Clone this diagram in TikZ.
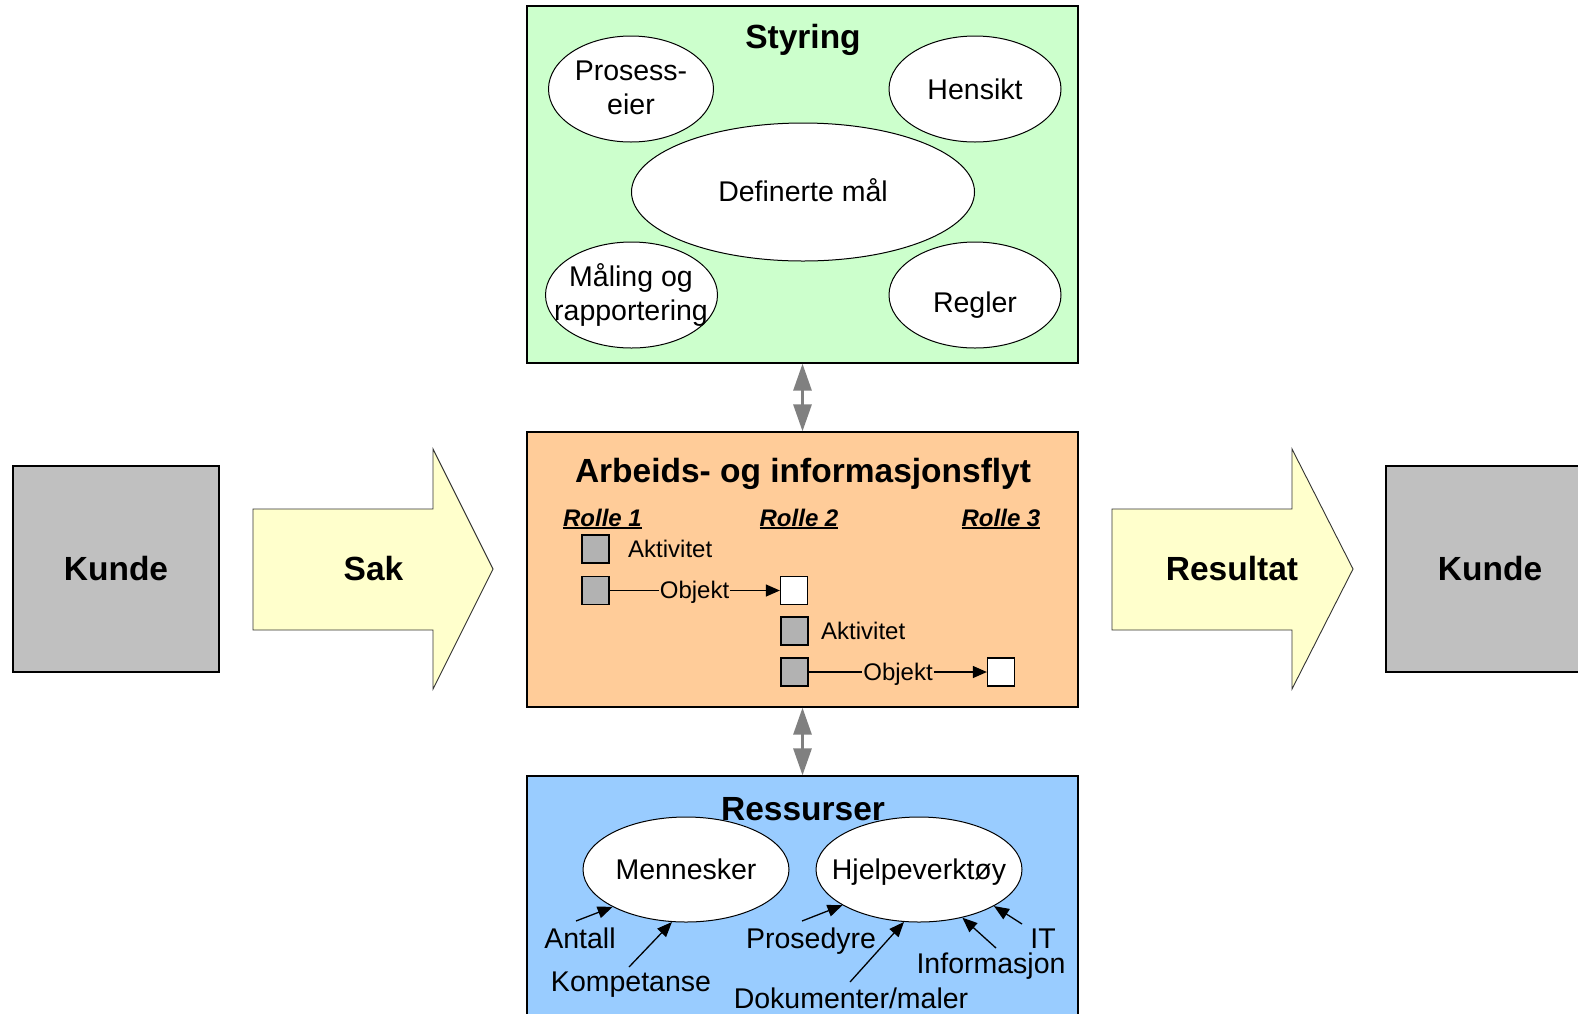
\documentclass[tikz,border=0pt]{standalone}
\usepackage{fontspec}
\setmainfont{Liberation Sans}
\usetikzlibrary{arrows.meta,shapes.geometric}

\definecolor{styrfill}{HTML}{CCFFCC}
\definecolor{arbfill}{HTML}{FFCC99}
\definecolor{resfill}{HTML}{99CCFF}
\definecolor{kundefill}{HTML}{C0C0C0}
\definecolor{flowfill}{HTML}{FFFFCC}
\definecolor{actgray}{HTML}{B2B2B2}
\definecolor{linkgray}{HTML}{808080}

% underlined role heading
\newcommand\rolleline[1]{\setbox0\hbox{#1}\rlap{\rule[-3pt]{\wd0}{1.8pt}}\box0}

\tikzset{
  panel/.style={draw=black, line width=1.3pt, rectangle, inner sep=0pt},
  kundebox/.style={panel, fill=kundefill},
  oval/.style={draw=black, line width=1pt, fill=white, ellipse, inner sep=0pt},
  bigtxt/.style={font=\fontsize{33.5}{40}\selectfont\bfseries, inner sep=0pt},
  midtxt/.style={font=\fontsize{28.5}{34.5}\selectfont, inner sep=0pt, align=center},
  smalltxt/.style={font=\fontsize{24}{28}\selectfont, inner sep=0pt},
  rolletxt/.style={font=\fontsize{24}{28}\selectfont\bfseries\itshape, inner sep=0pt, anchor=base},
  actbox/.style={draw=black, line width=1.3pt, fill=actgray, minimum width=27pt, minimum height=28pt, inner sep=0pt},
  objbox/.style={actbox, fill=white},
  flowshape/.style={draw=black!80, line width=0.9pt, fill=flowfill, line join=miter},
  linkarrow/.style={draw=linkgray, line width=3pt,
    {Triangle[length=27pt,width=18pt]}-{Triangle[length=27pt,width=18pt]}},
  objline/.style={draw=black, line width=1.2pt},
  objarrow/.style={objline, -{Triangle[length=14pt,width=12pt]}},
  feedarrow/.style={draw=black, line width=1.3pt, -{Triangle[length=15pt,width=12pt]}},
}

\begin{document}
\begin{tikzpicture}[x=1pt,y=-1pt]
\useasboundingbox (0,0) rectangle (1578,1013);

% ---- customer boxes and flow arrows ----
\node[kundebox, minimum width=206pt, minimum height=206pt] (kunde1) at (116,569) {};
\node[bigtxt] (kunde1txt) at (116,569) {Kunde};
\node[kundebox, minimum width=220pt, minimum height=206pt] (kunde2) at (1496,569) {};
\node[bigtxt] (kunde2txt) at (1490,569) {Kunde};

\draw[flowshape] (253,509) -- (433,509) -- (433,449) -- (493,569) -- (433,689) -- (433,630) -- (253,630) -- cycle;
\node[bigtxt] (saktxt) at (373.5,569) {Sak};
\draw[flowshape] (1112,509) -- (1292,509) -- (1292,449) -- (1353,569) -- (1292,689) -- (1292,630) -- (1112,630) -- cycle;
\node[bigtxt] (restxt) at (1232,569) {Resultat};

% ---- Styring ----
\node[panel, fill=styrfill, minimum width=551pt, minimum height=357pt] (styr) at (802.5,184.5) {};
\node[bigtxt, anchor=base] (styrtitle) at (803,48) {Styring};
\node[oval, minimum width=165pt, minimum height=106pt] (pe) at (631,89) {};
\node[midtxt] (petxt) at (631,88) {Prosess-\\eier};
\node[oval, minimum width=172pt, minimum height=106pt] (hen) at (975,89) {};
\node[midtxt, anchor=base] (hentxt) at (975,99) {Hensikt};
\node[oval, minimum width=343pt, minimum height=138pt] (def) at (803,192) {};
\node[midtxt, anchor=base] (deftxt) at (803,201) {Definerte mål};
\node[oval, minimum width=172pt, minimum height=106pt] (mal) at (631.5,295) {};
\node[midtxt] (maltxt) at (631,295) {Måling og\\rapportering};
\node[oval, minimum width=172pt, minimum height=106pt] (reg) at (975,295) {};
\node[midtxt, anchor=base] (regtxt) at (975,312) {Regler};

% ---- Arbeids- og informasjonsflyt ----
\node[panel, fill=arbfill, minimum width=551pt, minimum height=275pt] (arb) at (802.5,569.5) {};
\node[bigtxt, anchor=base] (arbtitle) at (803,482) {Arbeids- og informasjonsflyt};
\node[rolletxt] (r1) at (602.5,526) {\rolleline{Rolle 1}};
\node[rolletxt] (r2) at (799,526) {\rolleline{Rolle 2}};
\node[rolletxt] (r3) at (1001,526) {\rolleline{Rolle 3}};

\node[actbox] (a1) at (595.5,549) {};
\node[smalltxt, anchor=base west] (a1txt) at (628,557.5) {Aktivitet};
\node[actbox] (a2) at (595.5,590.5) {};
\node[smalltxt, anchor=base, inner xsep=1pt] (o1) at (694.5,598.5) {Objekt};
\node[objbox] (w1) at (794,590.5) {};
\draw[objline] (a2.east) -- (a2.east -| o1.west);
\draw[objarrow] (o1.east |- w1.west) -- (w1.west);

\node[actbox] (a3) at (794.5,631) {};
\node[smalltxt, anchor=base west] (a3txt) at (821,639.5) {Aktivitet};
\node[actbox] (a4) at (794.5,672) {};
\node[smalltxt, anchor=base, inner xsep=1pt] (o2) at (898,680.5) {Objekt};
\node[objbox] (w2) at (1001,672) {};
\draw[objline] (a4.east) -- (a4.east -| o2.west);
\draw[objarrow] (o2.east |- w2.west) -- (w2.west);

% ---- Ressurser ----
\node[panel, fill=resfill, minimum width=551pt, minimum height=250pt] (res) at (802.5,901) {};
\node[bigtxt, anchor=base] (restitle) at (803,820) {Ressurser};
\node[oval, minimum width=206pt, minimum height=105pt] (men) at (686,869.5) {};
\node[midtxt, anchor=base] (mentxt) at (686,879.5) {Mennesker};
\node[oval, minimum width=206pt, minimum height=105pt] (hjelp) at (919,869.5) {};
\node[midtxt, anchor=base] (hjelptxt) at (919,879.5) {Hjelpeverktøy};

\node[midtxt, anchor=base] (antall) at (580,948) {Antall};
\node[midtxt, anchor=base] (komp) at (631,991) {Kompetanse};
\node[midtxt, anchor=base] (pros) at (811,948) {Prosedyre};
\node[midtxt, anchor=base] (dok) at (851,1008) {Dokumenter/maler};
\node[midtxt, anchor=base] (info) at (991,973) {Informasjon};
\node[midtxt, anchor=base] (it) at (1043,948) {IT};

\coordinate (antallfoot) at (576,921);
\coordinate (kompfoot) at (629,967);
\coordinate (prosfoot) at (802,921);
\coordinate (dokfoot) at (850,982);
\coordinate (infofoot) at (996,948);
\coordinate (itfoot) at (1022,924);
\draw[feedarrow] (antallfoot) -- (men.207);
\draw[feedarrow] (kompfoot) -- (men.255);
\draw[feedarrow] (prosfoot) -- (hjelp.205);
\draw[feedarrow] (dokfoot) -- (hjelp.254);
\draw[feedarrow] (infofoot) -- (hjelp.312);
\draw[feedarrow] (itfoot) -- (hjelp.334);

% ---- links between the layers ----
\draw[linkarrow] (styr.south) -- (arb.north);
\draw[linkarrow] (arb.south) -- (res.north);
\end{tikzpicture}
\end{document}
